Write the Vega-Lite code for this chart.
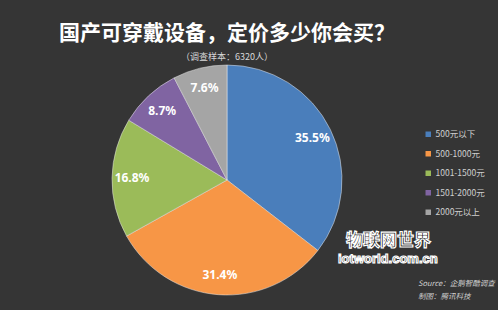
{
  "$schema": "https://vega.github.io/schema/vega-lite/v6.json",
  "width": 454,
  "height": 260,
  "autosize": {"type": "none"},
  "padding": {"left": 0, "top": 50, "right": 44, "bottom": 0},
  "background": "#353535",
  "title": {
    "text": "国产可穿戴设备，定价多少你会买？",
    "subtitle": "（调查样本：6320人）",
    "anchor": "middle",
    "frame": "group",
    "orient": "top",
    "offset": -12,
    "font": "Noto Sans CJK SC",
    "fontSize": 21,
    "fontWeight": "bold",
    "color": "#ffffff",
    "subtitleFont": "Noto Sans CJK SC",
    "subtitleFontSize": 9,
    "subtitleColor": "#d8d8d8",
    "subtitlePadding": 9
  },
  "config": {"view": {"stroke": null}},
  "data": {
    "values": [
      {"idx": 1, "category": "500元以下", "value": 35.5, "label": "35.5%"},
      {"idx": 2, "category": "500-1000元", "value": 31.4, "label": "31.4%"},
      {"idx": 3, "category": "1001-1500元", "value": 16.8, "label": "16.8%"},
      {"idx": 4, "category": "1501-2000元", "value": 8.7, "label": "8.7%"},
      {"idx": 5, "category": "2000元以上", "value": 7.6, "label": "7.6%"}
    ]
  },
  "layer": [
    {
      "mark": {"type": "arc", "outerRadius": 115, "stroke": "#e8e8e8", "strokeWidth": 0.5},
      "encoding": {
        "theta": {"field": "value", "type": "quantitative", "stack": true},
        "order": {"field": "idx", "type": "quantitative"},
        "color": {
          "field": "category",
          "type": "nominal",
          "scale": {
            "domain": ["500元以下", "500-1000元", "1001-1500元", "1501-2000元", "2000元以上"],
            "range": ["#4a7ebb", "#f79646", "#9bbb59", "#8064a2", "#a5a5a5"]
          },
          "legend": {
            "title": null,
            "orient": "none",
            "legendX": 424,
            "legendY": 80,
            "symbolType": "square",
            "symbolSize": 30,
            "symbolStrokeWidth": 0,
            "labelFont": "Noto Sans CJK SC",
            "labelFontSize": 8.5,
            "labelColor": "#d0d0d0",
            "labelOffset": 3,
            "rowPadding": 10.5
          }
        }
      }
    },
    {
      "mark": {"type": "text", "radius": 95, "font": "Noto Sans", "fontWeight": "bold", "fontSize": 12, "color": "#ffffff"},
      "encoding": {
        "theta": {"field": "value", "type": "quantitative", "stack": true},
        "order": {"field": "idx", "type": "quantitative"},
        "text": {"field": "label", "type": "nominal"}
      }
    },
    {
      "data": {"values": [{"line": 1, "text": "Source：企鹅智酷调查"}, {"line": 2, "text": "制图：腾讯科技"}]},
      "transform": [{"filter": "datum.line == 1"}],
      "mark": {"type": "text", "x": 418, "y": 234, "align": "left", "baseline": "middle", "font": "Noto Sans CJK SC", "fontSize": 7.5, "fontStyle": "italic", "color": "#cfcfcf"},
      "encoding": {"text": {"field": "text", "type": "nominal"}}
    },
    {
      "data": {"values": [{"line": 1, "text": "Source：企鹅智酷调查"}, {"line": 2, "text": "制图：腾讯科技"}]},
      "transform": [{"filter": "datum.line == 2"}],
      "mark": {"type": "text", "x": 418, "y": 247, "align": "left", "baseline": "middle", "font": "Noto Sans CJK SC", "fontSize": 7.5, "fontStyle": "italic", "color": "#cfcfcf"},
      "encoding": {"text": {"field": "text", "type": "nominal"}}
    },
    {
      "data": {"values": [{"text": "物联网世界"}]},
      "mark": {"type": "text", "x": 346, "y": 191, "align": "left", "baseline": "middle", "font": "Noto Sans CJK SC", "fontSize": 17, "fontWeight": "bold", "color": "#111111", "stroke": "#ffffff", "strokeWidth": 1.2},
      "encoding": {"text": {"field": "text", "type": "nominal"}}
    },
    {
      "data": {"values": [{"text": "iotworld.com.cn"}]},
      "mark": {"type": "text", "x": 338, "y": 209, "align": "left", "baseline": "middle", "font": "Liberation Sans", "fontSize": 13, "fontWeight": "bold", "color": "#111111", "stroke": "#ffffff", "strokeWidth": 1.2},
      "encoding": {"text": {"field": "text", "type": "nominal"}}
    }
  ]
}
